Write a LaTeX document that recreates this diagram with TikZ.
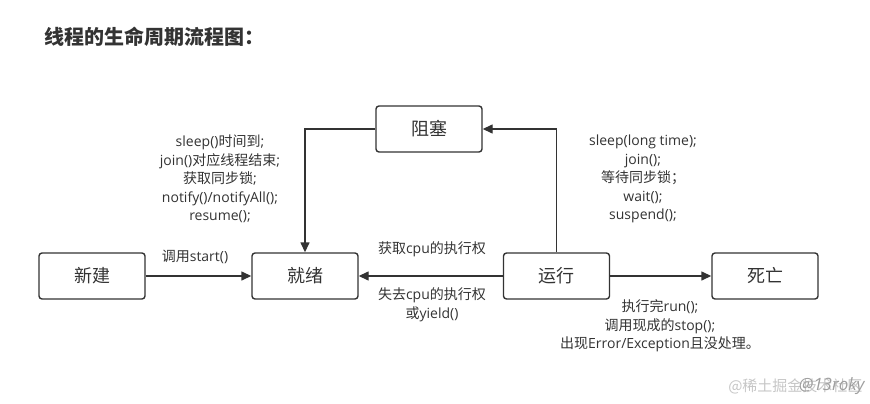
\documentclass[tikz,border=0pt]{standalone}
\usepackage{fontspec}
\setmainfont{Open Sans}
\newfontfamily\zhfont{Noto Sans CJK SC}
\newcommand\zh[1]{{\zhfont #1}}
\usetikzlibrary{arrows.meta}
\definecolor{linegray}{HTML}{333333}
\tikzset{
  state/.style={draw=linegray, line width=1.4pt, rounded corners=3pt, minimum width=106pt, minimum height=46pt, font=\zhfont\fontsize{18}{20}\selectfont, text=linegray},
  flow/.style={draw=linegray, line width=1.4pt, -{Triangle[length=10pt,width=9pt]}},
  note/.style={font=\fontsize{14}{18.5}\selectfont, text=linegray, align=center}
}
\begin{document}
\begin{tikzpicture}[x=1pt,y=-1pt]
    \useasboundingbox (0,0) rectangle (870,404);
    % Title
    \node[font=\zhfont\bfseries\fontsize{20}{24}\selectfont, text=linegray, anchor=west] (title) at (41,37) {线程的生命周期流程图：};

    % The five states
    \node[state] (new) at (92,276) {新建};
    \node[state] (ready) at (305,276) {就绪};
    \node[state] (run) at (556.5,276) {运行};
    \node[state] (dead) at (765,276) {死亡};
    \node[state] (block) at (429,129) {阻塞};

    % Transitions between the states
    \draw[flow] (new) -- (ready);
    \draw[flow] (run) -- (ready);
    \draw[flow] (run) -- (dead);
    \draw[flow] (run.north) |- (block.east);
    \draw[flow] (block.west) -| (ready.north);

    % Labels of the transitions
    \node[note] (startlbl) at (195,257) {\zh{调用}start()};
    \node[note] (getcpu) at (432,249) {\zh{获取}cpu\zh{的执行权}};
    \node[note] (losecpu) at (432,305) {\zh{失去}cpu\zh{的执行权}\\\zh{或}yield()};
    \node[note] (wakeup) at (220,179) {sleep()\zh{时间到};\\join()\zh{对应线程结束};\\\zh{获取同步锁};\\notify()/notifyAll();\\resume();};
    \node[note] (blockon) at (643,179) {sleep(long time);\\join();\\\zh{等待同步锁；}\\wait();\\suspend();};
    \node[note] (endrun) at (660,326) {\zh{执行完}run();\\\zh{调用现成的}stop();\\\zh{出现}Error/Exception\zh{且没处理。}};

    % Watermark
    \node[text=gray!45, font=\zhfont\fontsize{15}{18}\selectfont, anchor=east] (mark) at (866,386) {@稀土掘金技术社区};
    \node[text=gray!75, font=\itshape\fontsize{17}{20}\selectfont, anchor=east] (author) at (868,386) {@13roky};
\end{tikzpicture}
\end{document}
